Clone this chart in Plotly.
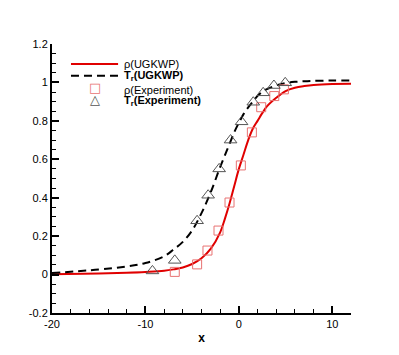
import plotly.graph_objects as go

# UGKWP curves
x_curve = [-20, -15, -12, -10, -8, -7, -6, -5, -4, -3, -2, -1.5, -1, -0.5, 0, 0.5,
           1, 1.5, 2, 2.5, 3, 4, 5, 6, 7, 8, 10, 12]
rho_ugkwp = [0.002, 0.006, 0.010, 0.014, 0.020, 0.027, 0.037, 0.055, 0.085, 0.135, 0.22,
             0.29, 0.37, 0.46, 0.55, 0.625, 0.70, 0.76, 0.80, 0.84, 0.875, 0.92, 0.955,
             0.972, 0.981, 0.987, 0.992, 0.993]
tr_ugkwp = [0.008, 0.026, 0.042, 0.060, 0.095, 0.13, 0.17, 0.23, 0.32, 0.43, 0.56,
            0.62, 0.68, 0.74, 0.79, 0.835, 0.87, 0.90, 0.93, 0.95, 0.965, 0.985, 0.997,
            1.003, 1.006, 1.008, 1.01, 1.01]

# experiment points
x_rho_exp = [-6.86, -4.47, -3.36, -2.18, -1.0, 0.21, 1.39, 2.39, 3.79, 4.82]
rho_exp = [0.014, 0.053, 0.125, 0.229, 0.375, 0.568, 0.74, 0.871, 0.929, 0.964]
x_tr_exp = [-9.25, -6.86, -4.47, -3.29, -2.11, -0.89, 0.29, 1.54, 2.6, 3.75, 4.96]
tr_exp = [0.019, 0.074, 0.28, 0.413, 0.55, 0.70, 0.795, 0.897, 0.946, 0.984, 0.998]

x_ticks = [-20, -10, 0, 10]
y_ticks = [-0.2, 0, 0.2, 0.4, 0.6, 0.8, 1, 1.2]

legend_labels = ["ρ(UGKWP)", "<b>T<sub>r</sub>(UGKWP)</b>",
                 "ρ(Experiment)", "<b>T<sub>r</sub>(Experiment)</b>"]

FONT = "Liberation Sans, Arial, sans-serif"
RED = "#e00000"
SQ_COLOR = "#e87272"
TRI_COLOR = "#555555"

fig = go.Figure()
fig.add_trace(go.Scatter(x=x_curve, y=rho_ugkwp, mode="lines", line_shape="spline",
                         line=dict(color=RED, width=2), showlegend=False))
fig.add_trace(go.Scatter(x=x_curve, y=tr_ugkwp, mode="lines", line_shape="spline",
                         line=dict(color="black", width=2, dash="8px,5px"), showlegend=False))
fig.add_trace(go.Scatter(x=x_rho_exp, y=rho_exp, mode="markers",
                         marker=dict(symbol="square-open", size=9, color=SQ_COLOR,
                                     line=dict(width=1)),
                         showlegend=False))
fig.add_trace(go.Scatter(x=x_tr_exp, y=tr_exp, mode="markers",
                         marker=dict(symbol="triangle-up-open", size=11, color=TRI_COLOR,
                                     line=dict(width=1)),
                         showlegend=False))

# hand-drawn legend (tecplot style, tight rows)
rows = [0.926, 0.882, 0.830, 0.788]
fig.add_shape(type="line", xref="paper", yref="paper", x0=0.0635, x1=0.221,
              y0=rows[0], y1=rows[0], line=dict(color=RED, width=2))
fig.add_shape(type="line", xref="paper", yref="paper", x0=0.0635, x1=0.221,
              y0=rows[1], y1=rows[1], line=dict(color="black", width=2, dash="8px,5px"))
fig.add_annotation(xref="paper", yref="paper", x=0.144, y=rows[2] + 0.01, text="□",
                   xanchor="center", yanchor="middle", showarrow=False,
                   font=dict(family="DejaVu Sans", size=13, color=SQ_COLOR))
fig.add_annotation(xref="paper", yref="paper", x=0.144, y=rows[3] + 0.006, text="△",
                   xanchor="center", yanchor="middle", showarrow=False,
                   font=dict(family="DejaVu Sans", size=13, color=TRI_COLOR))
for lab, yy in zip(legend_labels, rows):
    fig.add_annotation(xref="paper", yref="paper", x=0.234, y=yy, text=lab,
                       xanchor="left", yanchor="middle", showarrow=False,
                       font=dict(family=FONT, size=11, color="black"))

fig.update_xaxes(range=[-20, 12], tickvals=x_ticks, ticktext=[str(v) for v in x_ticks],
                 ticks="inside", ticklen=7, tickwidth=1.5, tickcolor="black",
                 minor=dict(dtick=2, ticks="inside", ticklen=4, tickcolor="black", tickwidth=1),
                 showline=True, linecolor="black", linewidth=2, showgrid=False, zeroline=False,
                 title=dict(text="<b>x</b>", font=dict(family=FONT, size=12, color="black"),
                            standoff=4),
                 tickfont=dict(family=FONT, size=11, color="black"))
fig.update_yaxes(range=[-0.2, 1.2], tickvals=y_ticks, ticktext=["%g" % v for v in y_ticks],
                 ticks="inside", ticklen=7, tickwidth=1.5, tickcolor="black",
                 minor=dict(dtick=0.05, ticks="inside", ticklen=4, tickcolor="black", tickwidth=1),
                 showline=True, linecolor="black", linewidth=2, showgrid=False, zeroline=False,
                 tickfont=dict(family=FONT, size=11, color="black"))

# page body keeps its default 8px margin, so the figure is trimmed by that much
fig.update_layout(width=391, height=347, margin=dict(l=44, r=48, t=36, b=40),
                  plot_bgcolor="white", paper_bgcolor="white", showlegend=False,
                  font=dict(family=FONT, size=11, color="black"))

fig.write_html("out.html")
